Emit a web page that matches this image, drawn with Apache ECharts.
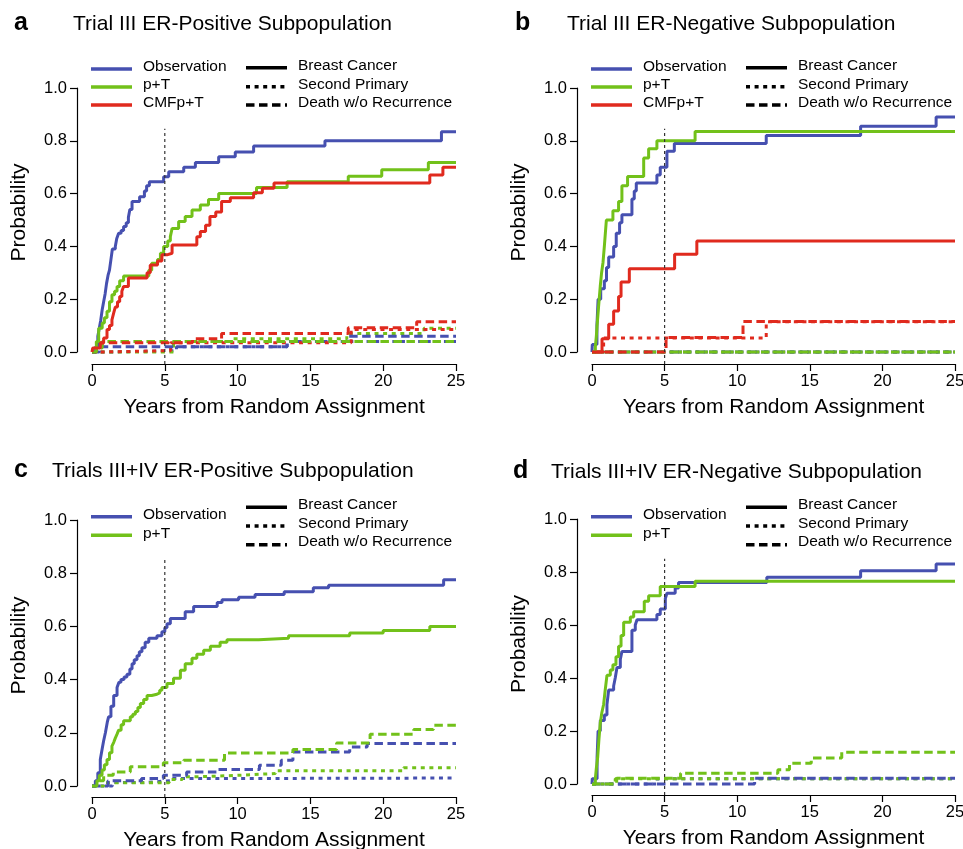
<!DOCTYPE html>
<html>
<head>
<meta charset="utf-8">
<title>Cumulative incidence by competing event</title>
<script src="https://cdn.jsdelivr.net/npm/echarts@6/dist/echarts.min.js"></script>
<style>
html, body { margin: 0; padding: 0; background: #fff; }
#chart { width: 963px; height: 849px; }
</style>
</head>
<body>
<div id="chart"></div>
<script>
// ---- data: [years, probability] step points ----
// panel a: Trial III ER-positive
const aObsBC = [[0,0],[0.25,0.02],[0.4,0.06],[0.5,0.09],[0.6,0.12],[0.7,0.16],[0.8,0.19],[0.9,0.22],[1.0,0.26],[1.1,0.29],[1.2,0.31],[1.3,0.35],[1.4,0.39],[1.6,0.40],[1.7,0.43],[1.83,0.45],[2.0,0.46],[2.17,0.475],[2.35,0.49],[2.5,0.51],[2.6,0.54],[2.75,0.57],[3.27,0.588],[3.6,0.61],[3.75,0.63],[3.94,0.645],[4.92,0.664],[5.27,0.683],[6.3,0.70],[7.1,0.718],[8.7,0.74],[9.84,0.758],[11.1,0.78],[16.0,0.80],[24.0,0.834],[25,0.834]];
const aObsSP = [[0,0],[1.2,0.005],[5.8,0.02],[13.4,0.04],[25,0.04]];
const aObsDR = [[0,0],[0.5,0.02],[13.4,0.04],[17.6,0.06],[25,0.06]];
const aPtBC = [[0,0],[0.3,0.04],[0.46,0.09],[0.7,0.11],[0.85,0.13],[1.03,0.154],[1.2,0.19],[1.37,0.217],[1.55,0.23],[1.72,0.248],[1.9,0.27],[2.17,0.288],[3.9,0.31],[4.1,0.336],[4.5,0.35],[4.7,0.374],[4.92,0.40],[5.2,0.42],[5.38,0.437],[5.5,0.468],[5.95,0.494],[6.4,0.513],[6.87,0.538],[7.44,0.557],[8.0,0.578],[8.7,0.60],[11.3,0.623],[13.4,0.645],[17.6,0.666],[19.9,0.69],[23.1,0.718],[25,0.718]];
const aPtSP = [[0,0],[5.6,0.04],[9.5,0.05],[17.5,0.07],[22.8,0.09],[25,0.09]];
const aPtDR = [[0,0],[0.3,0.015],[0.7,0.04],[25,0.04]];
const aCmfBC = [[0,0],[0.05,0.015],[0.57,0.034],[0.8,0.053],[1.03,0.085],[1.2,0.1],[1.37,0.122],[1.5,0.15],[1.6,0.17],[1.75,0.19],[1.9,0.21],[2.05,0.23],[2.17,0.248],[2.5,0.28],[3.78,0.30],[4.0,0.33],[4.5,0.345],[4.8,0.368],[5.15,0.374],[5.5,0.405],[7.2,0.437],[7.44,0.456],[7.8,0.48],[8.1,0.513],[8.5,0.53],[8.9,0.57],[9.5,0.584],[11.1,0.603],[11.7,0.62],[12.5,0.64],[23.2,0.67],[24.1,0.70],[25,0.70]];
const aCmfSP = [[0,0],[0.6,0.005],[5.4,0.035],[17.8,0.085],[25,0.085]];
const aCmfDR = [[0,0],[0.3,0.035],[6.9,0.05],[8.9,0.07],[17.6,0.092],[22.3,0.115],[25,0.115]];

// panel b: Trial III ER-negative
const bObsBC = [[0,0],[0.02,0.028],[0.34,0.1],[0.42,0.2],[0.6,0.24],[0.85,0.27],[1.0,0.32],[1.15,0.36],[1.49,0.40],[1.67,0.45],[1.9,0.49],[2.06,0.52],[2.75,0.58],[2.91,0.61],[3.05,0.64],[4.47,0.67],[4.7,0.70],[5.16,0.76],[5.67,0.79],[12.0,0.82],[18.5,0.855],[23.7,0.89],[25,0.89]];
const bObsSP = [[0,0],[25,0]];
const bObsDR = [[0,0],[25,0]];
const bPtBC = [[0,0],[0.23,0.02],[0.3,0.06],[0.35,0.1],[0.45,0.17],[0.57,0.25],[0.66,0.3],[0.76,0.34],[0.85,0.4],[0.92,0.45],[0.99,0.5],[1.44,0.535],[1.83,0.57],[2.06,0.63],[2.45,0.665],[3.56,0.735],[3.9,0.77],[4.47,0.80],[7.1,0.835],[25,0.835]];
const bPtSP = [[0,0],[25,0]];
const bPtDR = [[0,0],[25,0]];
const bCmfBC = [[0,0],[0.69,0.05],[1.15,0.105],[1.49,0.155],[1.83,0.21],[2.0,0.265],[2.57,0.315],[5.69,0.37],[7.22,0.42],[25,0.42]];
const bCmfSP = [[0,0],[0.8,0.053],[12,0.115],[25,0.115]];
const bCmfDR = [[0,0],[5.1,0.055],[10.4,0.116],[25,0.116]];

// panel c: Trials III+IV ER-positive
const cObsBC = [[0,0],[0.23,0.02],[0.4,0.05],[0.57,0.1],[0.7,0.14],[0.8,0.17],[0.92,0.2],[1.05,0.24],[1.14,0.26],[1.3,0.3],[1.49,0.34],[1.72,0.37],[1.85,0.39],[1.99,0.40],[2.2,0.41],[2.4,0.42],[2.6,0.44],[2.75,0.46],[2.9,0.475],[3.09,0.49],[3.25,0.505],[3.43,0.52],[3.65,0.54],[3.9,0.555],[4.46,0.565],[4.8,0.58],[5.0,0.595],[5.15,0.61],[5.38,0.63],[6.4,0.655],[6.98,0.675],[8.6,0.69],[8.93,0.70],[10.07,0.71],[11.2,0.72],[13.2,0.73],[15.2,0.745],[16.25,0.755],[24.15,0.775],[25,0.775]];
const cObsSP = [[0,0],[1.4,0.013],[3.5,0.02],[5.5,0.028],[9,0.03],[25,0.03]];
const cObsDR = [[0,0],[1.1,0.02],[3.4,0.028],[4.9,0.04],[6.5,0.053],[8.6,0.062],[11.5,0.078],[13.0,0.097],[13.8,0.128],[17.7,0.147],[18.9,0.16],[25,0.16]];
const cPtBC = [[0,0],[0.34,0.02],[0.5,0.04],[0.69,0.06],[0.85,0.08],[1.03,0.10],[1.2,0.125],[1.37,0.15],[1.5,0.165],[1.6,0.18],[1.72,0.195],[1.83,0.21],[2.0,0.23],[2.17,0.245],[2.63,0.26],[2.8,0.27],[2.98,0.28],[3.15,0.295],[3.32,0.31],[3.55,0.325],[3.78,0.34],[4.1,0.345],[4.46,0.35],[4.65,0.36],[4.8,0.37],[5.15,0.385],[5.6,0.405],[6.07,0.435],[6.4,0.46],[6.87,0.48],[7.2,0.495],[7.67,0.51],[8.13,0.525],[8.8,0.54],[9.27,0.55],[11.45,0.555],[13.5,0.565],[17.7,0.575],[20.0,0.585],[23.2,0.60],[25,0.60]];
const cPtSP = [[0,0],[0.8,0.012],[5.3,0.024],[6.2,0.035],[7.5,0.04],[10,0.047],[12.6,0.057],[21.4,0.069],[25,0.069]];
const cPtDR = [[0,0],[0.3,0.02],[0.8,0.04],[1.46,0.053],[2.63,0.072],[4.9,0.087],[6.3,0.097],[9.1,0.124],[13.8,0.137],[16.8,0.162],[19.1,0.195],[22.1,0.212],[23.45,0.228],[25,0.228]];

// panel d: Trials III+IV ER-negative
const dObsBC = [[0,0],[0.02,0.02],[0.35,0.1],[0.42,0.2],[0.57,0.24],[0.85,0.26],[1.03,0.30],[1.15,0.355],[1.49,0.37],[1.6,0.40],[1.72,0.44],[1.95,0.47],[2.06,0.50],[2.75,0.58],[2.98,0.60],[3.1,0.62],[4.47,0.64],[4.7,0.66],[5.05,0.70],[5.16,0.72],[5.73,0.74],[5.96,0.76],[12.04,0.78],[18.5,0.805],[23.7,0.83],[25,0.83]];
const dObsSP = [[0,0],[4.5,0.02],[25,0.02]];
const dObsDR = [[0,0],[11.2,0.022],[25,0.022]];
const dPtBC = [[0,0],[0.23,0.02],[0.3,0.06],[0.39,0.1],[0.48,0.17],[0.57,0.23],[0.68,0.27],[0.8,0.30],[0.9,0.35],[1.03,0.41],[1.26,0.43],[1.44,0.45],[1.65,0.48],[1.83,0.52],[2.0,0.56],[2.18,0.61],[2.64,0.63],[2.87,0.65],[3.6,0.69],[3.9,0.71],[4.7,0.745],[7.1,0.765],[25,0.765]];
const dPtSP = [[0,0],[1.6,0.02],[25,0.02]];
const dPtDR = [[0,0],[1.7,0.022],[6.1,0.041],[12.8,0.054],[13.6,0.078],[15.1,0.098],[17.2,0.12],[25,0.12]];

// labels
const panelLetters = ['a', 'b', 'c', 'd'];
const panelTitles = [
	'Trial III ER-Positive Subpopulation',
	'Trial III ER-Negative Subpopulation',
	'Trials III+IV ER-Positive Subpopulation',
	'Trials III+IV ER-Negative Subpopulation',
];
const armNames = ['Observation', 'p+T', 'CMFp+T'];
const eventNames = ['Breast Cancer', 'Second Primary', 'Death w/o Recurrence'];
const xTicks = [0, 5, 10, 15, 20, 25];
const landmarkYear = 5; // vertical reference line
const landmarkTop = [0.846, 0.846, 0.854, 0.85];

// ---- styles ----
const FONT = '"Liberation Sans", Arial, Helvetica, sans-serif';
const armColors = ['#4650b0', '#72c11a', '#e02a1e'];
const eventDash = ['solid', [4, 4.6], [8.5, 4.5]];

// per panel: arms -> [BC, SP, DR]
const panelData = [
	[[aObsBC, aObsSP, aObsDR], [aPtBC, aPtSP, aPtDR], [aCmfBC, aCmfSP, aCmfDR]],
	[[bObsBC, bObsSP, bObsDR], [bPtBC, bPtSP, bPtDR], [bCmfBC, bCmfSP, bCmfDR]],
	[[cObsBC, cObsSP, cObsDR], [cPtBC, cPtSP, cPtDR]],
	[[dObsBC, dObsSP, dObsDR], [dPtBC, dPtSP, dPtDR]],
];

// layout of the four panels
const layout = [
	{ grid: { left: 92, top: 88, width: 364, height: 264 }, xOff: 12, letterX: 14, titleX: 73, titleY: 24.5, letterY: 23,
		keyX: 91, typeX: 246, colorRows: [69, 87, 105], colorText: [67, 85, 103], typeRows: [67.7, 86.7, 105], typeText: [65.7, 84.3, 102.7] },
	{ grid: { left: 592, top: 88, width: 363, height: 264 }, xOff: 12, letterX: 515, titleX: 567, titleY: 24.5, letterY: 23,
		keyX: 591, typeX: 746, colorRows: [69, 87, 105], colorText: [67, 85, 103], typeRows: [67.7, 86.7, 105], typeText: [65.7, 84.3, 102.7] },
	{ grid: { left: 92, top: 520, width: 364, height: 266 }, xOff: 11, letterX: 14, titleX: 52, titleY: 471.5, letterY: 470,
		keyX: 91, typeX: 246, colorRows: [516.7, 535.3], colorText: [515, 533.3], typeRows: [507.3, 526, 544.7], typeText: [505, 524, 542] },
	{ grid: { left: 592, top: 519, width: 363, height: 265 }, xOff: 11, letterX: 513, titleX: 551, titleY: 472.5, letterY: 471,
		keyX: 591, typeX: 746, colorRows: [516.7, 535.3], colorText: [515, 533.3], typeRows: [507.3, 526, 544.7], typeText: [505, 524, 542] },
];

const chart = echarts.init(document.getElementById('chart'), null, { renderer: 'canvas' });

const axisLine = { show: true, onZero: false, lineStyle: { color: '#000', width: 1.2 } };
const axisTick = { show: true, length: 7, lineStyle: { color: '#000', width: 1.2 } };

const grids = layout.map(l => ({ ...l.grid, containLabel: false, outerBoundsMode: 'none' }));

const xAxes = layout.map((l, i) => ({
	type: 'value', gridIndex: i, min: xTicks[0], max: xTicks[xTicks.length - 1], interval: xTicks[1] - xTicks[0],
	offset: l.xOff, axisLine, axisTick, splitLine: { show: false },
	axisLabel: { color: '#000', fontSize: 16.5, fontFamily: FONT, margin: 9, showMinLabel: true, showMaxLabel: true },
	name: 'Years from Random Assignment', nameLocation: 'middle', nameGap: 33,
	nameTextStyle: { color: '#000', fontSize: 21, fontFamily: FONT },
}));

const yAxes = layout.map((l, i) => ({
	type: 'value', gridIndex: i, min: 0, max: 1, interval: 0.2,
	offset: 15, axisLine, axisTick, splitLine: { show: false },
	axisLabel: { color: '#000', fontSize: 16.5, fontFamily: FONT, margin: 10, formatter: v => v.toFixed(1), showMinLabel: true, showMaxLabel: true },
	name: 'Probability', nameLocation: 'middle', nameGap: 47,
	nameTextStyle: { color: '#000', fontSize: 21, fontFamily: FONT, padding: [0, 0, 0, 15] },
}));

// step curves
function stepSeries(panel, data, color, dash) {
	return {
		type: 'line', xAxisIndex: panel, yAxisIndex: panel, data, step: 'end',
		symbol: 'none', showSymbol: false, clip: false, silent: true,
		lineStyle: { color, width: 3, type: dash, cap: 'butt' },
	};
}

// bottom of the landmark line reaches the offset x axis
function landmarkBottom(p) {
	return -layout[p].xOff / layout[p].grid.height;
}

const series = [];
panelData.forEach((arms, p) => {
	// dotted / dashed first, solid curves on top
	[1, 2, 0].forEach(ev => {
		arms.forEach((curves, a) => {
			series.push(stepSeries(p, curves[ev], armColors[a], eventDash[ev]));
		});
	});
	// 5-year landmark
	series.push({
		type: 'line', xAxisIndex: p, yAxisIndex: p, symbol: 'none', clip: false, silent: true,
		data: [[landmarkYear, landmarkBottom(p)], [landmarkYear, landmarkTop[p]]],
		lineStyle: { color: '#333', width: 1.2, type: [3, 3] },
	});
});

// titles, panel letters and legends
const graphics = [];
layout.forEach((l, p) => {
	graphics.push({ type: 'text', x: l.letterX, y: l.letterY, style: { text: panelLetters[p], font: 'bold 25px ' + FONT, fill: '#000', verticalAlign: 'middle' } });
	graphics.push({ type: 'text', x: l.titleX, y: l.titleY, style: { text: panelTitles[p], font: '21px ' + FONT, fill: '#000', verticalAlign: 'middle' } });
	panelData[p].forEach((_, a) => {
		graphics.push({ type: 'line', shape: { x1: l.keyX, y1: l.colorRows[a], x2: l.keyX + 41, y2: l.colorRows[a] }, style: { stroke: armColors[a], lineWidth: 3.5 } });
		graphics.push({ type: 'text', x: l.keyX + 52, y: l.colorText[a], style: { text: armNames[a], font: '15.5px ' + FONT, fill: '#000', verticalAlign: 'middle' } });
	});
	eventNames.forEach((name, ev) => {
		const dash = eventDash[ev] === 'solid' ? null : eventDash[ev];
		graphics.push({ type: 'line', shape: { x1: l.typeX, y1: l.typeRows[ev], x2: l.typeX + 41, y2: l.typeRows[ev] }, style: { stroke: '#000', lineWidth: 3.5, lineDash: dash } });
		graphics.push({ type: 'text', x: l.typeX + 52, y: l.typeText[ev], style: { text: name, font: '15.5px ' + FONT, fill: '#000', verticalAlign: 'middle' } });
	});
});

chart.setOption({
	animation: false,
	backgroundColor: '#fff',
	grid: grids,
	xAxis: xAxes,
	yAxis: yAxes,
	series,
	graphic: graphics,
});
</script>
</body>
</html>
